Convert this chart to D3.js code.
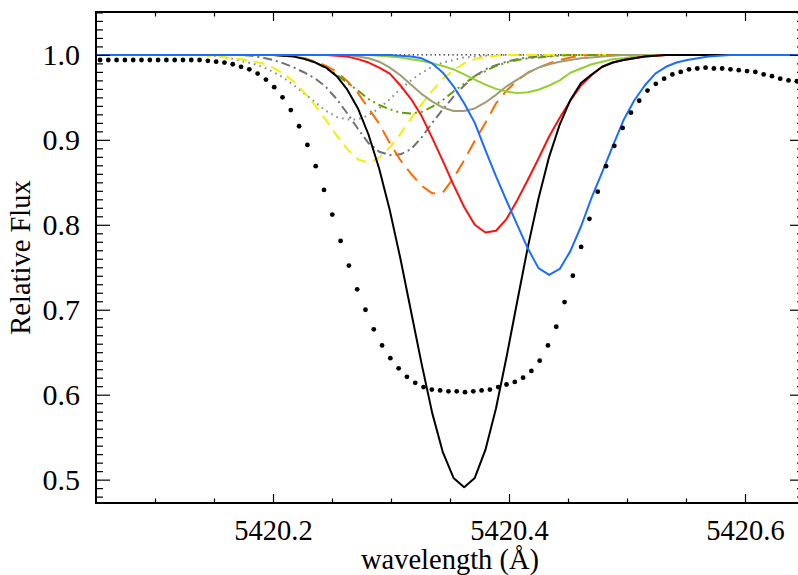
<!DOCTYPE html>
<html>
<head>
<meta charset="utf-8">
<script src="https://cdn.jsdelivr.net/npm/d3@7"></script>
<style>
  html, body { margin: 0; padding: 0; background: #fff; }
  svg text { font-family: "Liberation Serif", "Times New Roman", serif; fill: #000; }
</style>
</head>
<body>
<svg id="chart" width="798" height="575"></svg>
<script>
// Observed spectrum: flux on the instrument pixel grid
const obsStart = 5420.0534;
const obsStep = 0.00703;
const obsFlux = [
  0.994, 0.994, 0.994, 0.994, 0.994, 0.994, 0.994, 0.994, 0.994, 0.994,
  0.994, 0.994, 0.994, 0.993, 0.992, 0.991, 0.989, 0.986, 0.983, 0.978,
  0.971, 0.962, 0.950, 0.935, 0.916, 0.894, 0.869, 0.841, 0.812, 0.781,
  0.752, 0.724, 0.700, 0.677, 0.658, 0.643, 0.631, 0.621, 0.614, 0.609,
  0.606, 0.605, 0.604, 0.604, 0.603, 0.604, 0.605, 0.606, 0.609, 0.612,
  0.615, 0.620, 0.628, 0.640, 0.658, 0.680, 0.709, 0.740, 0.774, 0.807,
  0.839, 0.869, 0.893, 0.914, 0.932, 0.946, 0.958, 0.966, 0.972, 0.977,
  0.980, 0.983, 0.984, 0.985, 0.984, 0.984, 0.983, 0.982, 0.981, 0.980,
  0.977, 0.975, 0.972, 0.970, 0.969
];

// Model profiles, all sampled on one wavelength grid
const modelStart = 5420.047;
const modelStep = 0.009;

const fluxBlack = [
  1,1,1,1,1,1,1,1,1,1, 1,1,1,1,1,1,1,1,
  0.999, 0.998, 0.995, 0.991, 0.985, 0.975, 0.959, 0.937, 0.906, 0.866,
  0.817, 0.760, 0.698, 0.636, 0.578, 0.532, 0.502, 0.491, 0.502, 0.535,
  0.584, 0.645, 0.710, 0.774, 0.831, 0.880, 0.918, 0.947, 0.967, 0.977,
  0.986, 0.991, 0.994, 0.996, 0.998, 0.999,
  1,1,1,1,1,1,1,1,1,1,1,1,1,1
];
const fluxRed = [
  1,1,1,1,1,1,1,1,1,1, 1,1,1,1,1,1,1,1,1,1, 1,1,1,
  0.999, 0.998, 0.995, 0.991, 0.985, 0.978, 0.964, 0.948, 0.928, 0.902,
  0.875, 0.847, 0.821, 0.800, 0.791, 0.793, 0.807, 0.829, 0.853, 0.878,
  0.904, 0.926, 0.946, 0.964, 0.976, 0.986, 0.991, 0.994, 0.996, 0.998,
  0.999,
  1,1,1,1,1,1,1,1,1,1,1,1,1,1
];
const fluxBlue = [
  1,1,1,1,1,1,1,1,1,1, 1,1,1,1,1,1,1,1,1,1, 1,1,1,1,1,1,1,1,1,
  0.999, 0.998, 0.996, 0.990, 0.979, 0.963, 0.943, 0.920, 0.888, 0.857,
  0.828, 0.800, 0.772, 0.749, 0.741, 0.748, 0.769, 0.798, 0.832, 0.862,
  0.893, 0.923, 0.946, 0.964, 0.978, 0.986, 0.991, 0.994, 0.996, 0.998,
  0.999,
  1,1,1,1,1,1,1,1
];
const fluxOrange = [
  1,1,1,1,1,1,1,1,1,1, 1,1,1,1,1,1,1,1,
  0.999, 0.998, 0.996, 0.992, 0.987, 0.980, 0.969, 0.955, 0.937, 0.919,
  0.896, 0.876, 0.860, 0.846, 0.837, 0.838, 0.855, 0.876, 0.899, 0.920,
  0.943, 0.958, 0.970, 0.979, 0.985, 0.990, 0.994, 0.997, 0.999,
  1,1,1,1,1,1,1,1,1,1, 1,1,1,1,1,1,1,1,1,1, 1
];
const fluxYellow = [
  1,1,1,1,1,1,1,1,1,1, 1,
  0.999, 0.998, 0.996, 0.995, 0.993, 0.990, 0.985, 0.978, 0.968, 0.955,
  0.940, 0.923, 0.905, 0.889, 0.877, 0.873, 0.879, 0.891, 0.907, 0.925,
  0.942, 0.958, 0.972, 0.982, 0.990, 0.995, 0.998, 0.999,
  1,1,1,1,1,1,1,1,1,1, 1,1,1,1,1,1,1,1,1,1, 1,1,1,1,1,1,1,1,1
];
const fluxGrayDashDot = [
  1,1,1,1,1,1,1,1,1,1, 1,1,1,1,1,
  0.999, 0.997, 0.994, 0.990, 0.985, 0.979, 0.972, 0.962, 0.948, 0.931,
  0.913, 0.896, 0.886, 0.882, 0.883, 0.889, 0.903, 0.920, 0.936, 0.951,
  0.964, 0.975, 0.983, 0.988, 0.992, 0.995, 0.997, 0.998, 0.999,
  1,1,1,1,1,1,1,1,1,1, 1,1,1,1,1,1,1,1,1,1, 1,1,1,1
];
const fluxGrayDotted = [
  1,1,1,1,1,1,1,1,1,1, 1,1,
  0.998, 0.996, 0.993, 0.990, 0.986, 0.980, 0.973, 0.964, 0.954, 0.944,
  0.934, 0.927, 0.924, 0.924, 0.929, 0.937, 0.948, 0.960, 0.970, 0.979,
  0.986, 0.991, 0.994, 0.997, 0.998, 0.999,
  1,1,1,1,1,1,1,1,1,1, 1,1,1,1,1,1,1,1,1,1, 1,1,1,1,1,1,1,1,1,1
];
const fluxOlive = [
  1,1,1,1,1,1,1,1,1,1, 1,1,1,1,1,1,1,1,1,
  0.998, 0.995, 0.991, 0.984, 0.977, 0.967, 0.958, 0.948, 0.941, 0.936,
  0.932, 0.931, 0.933, 0.939, 0.947, 0.957, 0.966, 0.975, 0.981, 0.987,
  0.991, 0.994, 0.996, 0.997, 0.998, 0.999,
  1,1,1,1,1,1,1,1,1,1, 1,1,1,1,1,1,1,1,1,1, 1,1,1
];
const fluxTan = [
  1,1,1,1,1,1,1,1,1,1, 1,1,1,1,1,1,1,1,1,1, 1,1,1,1,1,
  0.998, 0.996, 0.992, 0.985, 0.976, 0.965, 0.954, 0.945, 0.938, 0.934,
  0.934, 0.937, 0.944, 0.953, 0.963, 0.971, 0.979, 0.985, 0.989, 0.992,
  0.994, 0.996, 0.997, 0.998, 0.999,
  1,1,1,1,1,1,1,1,1,1, 1,1,1,1,1,1,1,1
];
const fluxLightGreen = [
  1,1,1,1,1,1,1,1,1,1, 1,1,1,1,1,1,1,1,1,1, 1,1,1,1,1,1,1,
  0.999, 0.998, 0.997, 0.995, 0.993, 0.990, 0.987, 0.983, 0.977, 0.971,
  0.965, 0.960, 0.957, 0.955, 0.956, 0.959, 0.964, 0.970, 0.979, 0.984,
  0.989, 0.992, 0.995, 0.996, 0.998, 0.999,
  1,1,1,1,1,1,1,1,1,1, 1,1,1,1,1
];

// Continuum level
const continuumWave = [5420.05, 5420.65];
const continuumFlux = [1.0, 1.0];

// Axis ticks and labels
const waveMajor = [5420.2, 5420.4, 5420.6];
const waveMinor = [5420.1, 5420.15, 5420.25, 5420.3, 5420.35, 5420.45, 5420.5, 5420.55];
const fluxMajor = [0.5, 0.6, 0.7, 0.8, 0.9, 1.0];
const xTitle = "wavelength (Å)";
const yTitle = "Relative Flux";

// ---- layout ----
const svg = d3.select("#chart");
const plotL = 96, plotR = 804, plotT = 12, plotB = 503;
const labelSize = 28.5;
const yLabelSize = 30;

const x = d3.scaleLinear().domain([5420.05, 5420.65]).range([plotL, plotR]);
const y = d3.scaleLinear().domain([0.4725, 1.0505]).range([plotB, plotT]);

const modelWave = fluxBlack.map((_, i) => modelStart + i * modelStep);
const obsWave = obsFlux.map((_, i) => obsStart + i * obsStep);

svg.append("defs").append("clipPath").attr("id", "plotClip")
  .append("rect").attr("x", plotL).attr("y", plotT)
  .attr("width", plotR - plotL).attr("height", plotB - plotT);

const plot = svg.append("g").attr("clip-path", "url(#plotClip)");

const line = d3.line()
  .x(d => x(d[0]))
  .y(d => y(d[1]));

function pairs(w, f) { return w.map((v, i) => [v, f[i]]); }

// continuum
plot.append("path")
  .datum(pairs(continuumWave, continuumFlux))
  .attr("d", line)
  .attr("fill", "none")
  .attr("stroke", "#000")
  .attr("stroke-width", 1.2)
  .attr("stroke-dasharray", "1.2,3.2");

const models = [
  { flux: fluxGrayDotted,   color: "#8a8a8a", dash: "1.6,4.2", width: 2 },
  { flux: fluxGrayDashDot,  color: "#707070", dash: "9,4,2,4", width: 2 },
  { flux: fluxYellow,       color: "#f4f000", dash: "11,7",    width: 2 },
  { flux: fluxOrange,       color: "#ff6a00", dash: "15,8",    width: 2 },
  { flux: fluxOlive,        color: "#62a000", dash: "9,4,2,4,2,4", width: 2 },
  { flux: fluxTan,          color: "#a09c74", dash: null,      width: 2 },
  { flux: fluxLightGreen,   color: "#94d02c", dash: null,      width: 2 },
  { flux: fluxRed,          color: "#ff1010", dash: null,      width: 2 },
  { flux: fluxBlack,        color: "#000000", dash: null,      width: 2 },
  { flux: fluxBlue,         color: "#1a6eff", dash: null,      width: 2 }
];

models.forEach(m => {
  plot.append("path")
    .datum(pairs(modelWave, m.flux))
    .attr("d", line)
    .attr("fill", "none")
    .attr("stroke", m.color)
    .attr("stroke-width", m.width)
    .attr("stroke-linejoin", "round")
    .attr("stroke-dasharray", m.dash);
});

// observed points
plot.append("g").selectAll("circle")
  .data(pairs(obsWave, obsFlux))
  .join("circle")
  .attr("cx", d => x(d[0]))
  .attr("cy", d => y(d[1]))
  .attr("r", 2.4)
  .attr("fill", "#000");

// ---- axes (ticks drawn inward on all four sides) ----
const fluxMinor = d3.range(48, 106).map(v => v / 100).filter(v => Math.round(v * 100) % 10 !== 0);

function styleAxis(g) {
  g.select(".domain").remove();
  g.selectAll(".tick line").attr("stroke", "#000").attr("stroke-width", 1.2);
}

// bottom
svg.append("g").attr("transform", `translate(0,${plotB})`)
  .call(d3.axisBottom(x).tickValues(waveMajor).tickFormat(d3.format(".1f"))
    .tickSize(-9).tickPadding(17))
  .call(styleAxis)
  .call(g => g.selectAll("text").attr("font-size", labelSize).attr("font-family", "Liberation Serif, serif"));
svg.append("g").attr("transform", `translate(0,${plotB})`)
  .call(d3.axisBottom(x).tickValues(waveMinor).tickFormat("").tickSize(-4.5))
  .call(styleAxis);

// top
svg.append("g").attr("transform", `translate(0,${plotT})`)
  .call(d3.axisTop(x).tickValues(waveMajor).tickFormat("").tickSize(-9))
  .call(styleAxis);
svg.append("g").attr("transform", `translate(0,${plotT})`)
  .call(d3.axisTop(x).tickValues(waveMinor).tickFormat("").tickSize(-4.5))
  .call(styleAxis);

// left
svg.append("g").attr("transform", `translate(${plotL},0)`)
  .call(d3.axisLeft(y).tickValues(fluxMajor).tickFormat(d3.format(".1f"))
    .tickSize(-14).tickPadding(16))
  .call(styleAxis)
  .call(g => g.selectAll("text").attr("font-size", yLabelSize).attr("font-family", "Liberation Serif, serif"));
svg.append("g").attr("transform", `translate(${plotL},0)`)
  .call(d3.axisLeft(y).tickValues(fluxMinor).tickFormat("").tickSize(-7))
  .call(styleAxis);

// right
svg.append("g").attr("transform", `translate(${plotR},0)`)
  .call(d3.axisRight(y).tickValues(fluxMajor).tickFormat("").tickSize(-14))
  .call(styleAxis);
svg.append("g").attr("transform", `translate(${plotR},0)`)
  .call(d3.axisRight(y).tickValues(fluxMinor).tickFormat("").tickSize(-7))
  .call(styleAxis);

// frame
svg.append("rect")
  .attr("x", plotL).attr("y", plotT)
  .attr("width", plotR - plotL).attr("height", plotB - plotT)
  .attr("fill", "none").attr("stroke", "#000").attr("stroke-width", 2);

// titles
svg.append("text")
  .attr("x", 450)
  .attr("y", 569)
  .attr("text-anchor", "middle")
  .attr("font-size", labelSize)
  .text(xTitle);

svg.append("text")
  .attr("transform", `translate(30,${(plotT + plotB) / 2}) rotate(-90)`)
  .attr("text-anchor", "middle")
  .attr("font-size", labelSize)
  .text(yTitle);
</script>
</body>
</html>
